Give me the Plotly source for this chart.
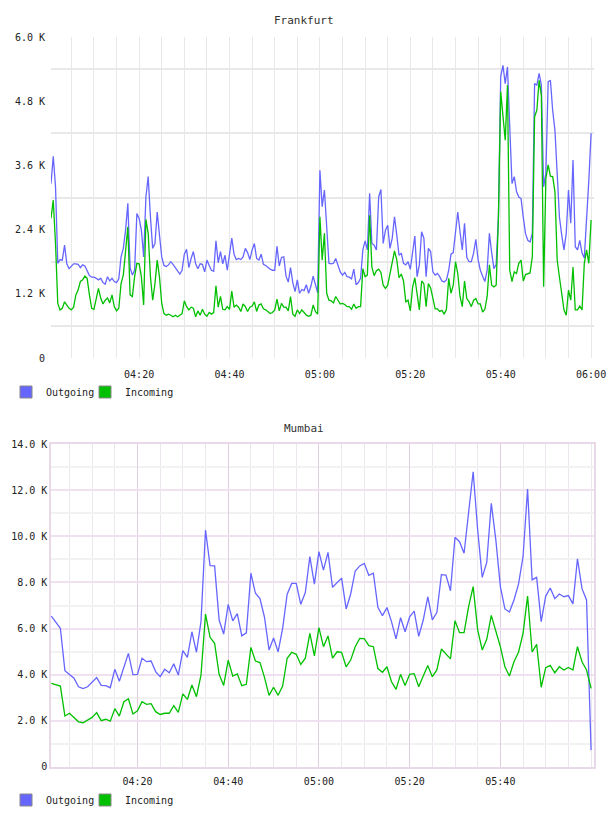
import plotly.graph_objects as go
import pandas as pd

# ---------------- data (values in thousands) ----------------
fra_out = [3.26, 3.77, 3.20, 1.77, 1.84, 1.83, 2.11, 1.76, 1.67, 1.71, 1.76, 1.76, 1.75, 1.69, 1.74, 1.72, 1.63, 1.54, 1.51, 1.51,
           1.49, 1.46, 1.49, 1.41, 1.38, 1.52, 1.44, 1.49, 1.43, 1.41, 1.48, 1.89, 2.05, 2.39, 2.89, 1.69, 1.55, 1.64, 2.70, 2.61,
           2.39, 1.89, 3.01, 3.39, 2.64, 2.05, 2.14, 2.73, 2.30, 1.89, 1.73, 1.71, 1.74, 1.80, 1.75, 1.69, 1.64, 1.57, 1.64, 1.94,
           2.03,
           1.69, 1.86, 1.99, 1.76, 1.67, 1.76, 1.75, 1.61, 1.83, 1.73, 1.64, 1.62, 2.19, 1.78, 1.99, 1.76, 1.92, 1.64, 1.94, 2.24,
           1.94, 1.84, 1.86, 1.84, 1.89, 2.05, 1.97, 1.84, 2.02, 2.14, 1.86, 1.83, 1.94, 1.75, 1.73, 1.69, 1.66, 1.64, 1.64, 2.09,
           1.72, 1.88, 1.89, 1.53, 1.42, 1.69, 1.41, 1.24, 1.46, 1.21, 1.28, 1.26, 1.37, 1.21, 1.34, 1.53, 1.38, 1.22, 3.51, 2.83,
           3.14,
           2.36, 1.77, 1.76, 1.77, 1.86, 1.74, 1.61, 1.55, 1.60, 1.52, 1.51, 1.48, 1.66, 1.37, 1.41, 1.49, 2.02, 2.19, 2.02, 3.08,
           2.14, 2.11, 2.02, 3.01, 3.15, 2.14, 2.39, 2.48, 2.05, 2.24, 2.64, 2.30, 1.92, 1.96, 1.77, 1.74, 1.80, 1.66, 2.02, 2.28,
           1.52, 1.74, 2.36, 2.24, 1.52, 2.05, 1.99, 1.61, 1.55, 1.58, 1.52, 1.44, 1.42, 1.46, 1.64, 1.94, 1.97, 2.30, 2.73, 2.36,
           2.02,
           2.52, 1.88, 1.80, 1.80, 1.96, 2.22, 1.84, 1.64, 1.53, 1.43, 1.64, 2.33, 1.97, 1.67, 1.75, 2.64, 5.26, 5.47, 5.13, 5.44,
           4.32, 3.26, 3.39, 3.11, 3.01, 2.98, 2.63, 2.32, 2.20, 2.17, 2.33, 5.13, 5.10, 5.32, 5.10, 3.20, 3.46, 5.16, 5.19, 4.63,
           4.26, 3.32, 2.63, 2.30, 2.02, 2.33, 3.14, 2.52, 3.70, 2.08, 2.02, 2.20, 1.96, 1.87, 2.52, 3.32, 4.20]

fra_in = [2.61, 2.95, 2.14, 1.02, 0.90, 0.93, 1.05, 0.99, 0.93, 0.90, 0.95, 1.18, 1.27, 1.43, 1.46, 1.53, 1.49, 1.18, 0.93, 0.91,
          1.08, 1.30, 1.12, 1.01, 1.08, 1.12, 1.03, 1.18, 0.96, 0.88, 0.93, 1.39, 1.55, 2.08, 2.45, 1.18, 1.15, 1.52, 1.77, 1.76,
          1.52, 0.99, 2.59, 2.33, 1.52, 1.08, 1.39, 1.83, 1.52, 1.02, 0.83, 0.80, 0.82, 0.80, 0.77, 0.80, 0.77, 0.80, 0.83, 1.07,
          0.96,
          0.90, 0.95, 0.93, 0.77, 0.88, 0.80, 0.91, 0.82, 0.78, 0.85, 0.82, 0.85, 1.35, 0.95, 1.15, 0.91, 0.90, 0.96, 0.91, 1.25,
          0.95, 0.99, 0.95, 0.87, 1.01, 0.96, 0.87, 0.95, 0.97, 1.05, 0.87, 0.99, 1.01, 0.92, 0.90, 0.87, 0.83, 0.85, 0.90, 1.10,
          0.88, 1.02, 0.95, 0.95, 0.88, 1.15, 0.82, 0.78, 0.90, 0.83, 0.90, 0.85, 0.80, 0.78, 0.80, 0.99, 0.87, 0.82, 2.64, 1.83,
          2.33,
          1.21, 1.08, 1.07, 1.03, 1.15, 1.08, 1.01, 1.02, 1.00, 0.96, 0.96, 0.91, 1.01, 0.93, 0.96, 0.96, 1.67, 1.52, 1.55, 2.67,
          1.70, 1.54, 1.63, 1.66, 1.60, 1.36, 1.30, 1.36, 1.57, 1.77, 2.00, 1.84, 1.50, 1.57, 1.44, 1.05, 1.08, 0.88, 1.32, 1.50,
          1.21, 0.90, 1.44, 1.39, 0.96, 1.39, 1.31, 1.08, 0.92, 0.92, 0.87, 0.89, 0.82, 0.91, 1.49, 1.21, 1.36, 1.80, 1.58, 1.15,
          0.96,
          1.44, 1.11, 1.05, 0.96, 1.08, 1.11, 1.01, 1.01, 0.86, 0.91, 1.15, 1.74, 1.36, 1.33, 1.36, 2.64, 4.98, 4.57, 4.07, 5.10,
          1.64, 1.43, 1.61, 1.58, 1.77, 1.83, 1.44, 1.56, 1.58, 1.59, 1.90, 4.51, 4.63, 5.19, 4.91, 1.33, 3.36, 3.61, 3.40, 3.39,
          3.11, 1.83, 1.51, 1.21, 0.90, 0.80, 1.27, 1.08, 1.70, 0.90, 0.90, 0.97, 0.90, 1.77, 2.02, 1.77, 2.58]

mum_out = [6.54, 6.30, 6.01, 4.17, 4.01, 3.84, 3.47, 3.39, 3.47, 3.65, 3.87, 3.53, 3.52, 3.43, 4.23, 3.71, 4.34, 4.92, 4.00, 4.01,
           4.71, 4.56, 4.59, 4.13, 3.91, 4.23, 4.08, 4.47, 3.98, 5.04, 4.75, 5.86, 4.97, 6.30, 10.28, 8.73, 8.72, 6.37, 5.76, 7.05,
           6.33, 6.65, 5.68, 5.81, 8.40, 7.53, 7.30, 6.49, 5.07, 5.59, 4.99, 6.01, 7.49, 7.96, 7.96, 7.05, 7.56, 9.12, 7.93, 9.34,
           8.54, 9.31, 7.79, 7.99, 8.19, 6.85, 7.50, 8.50, 8.72, 8.83, 8.31, 8.40, 6.92, 6.56, 6.91, 6.30, 5.55, 6.47, 5.86, 6.51,
           6.76, 5.66, 6.37, 7.38, 6.38, 6.69, 8.34, 8.32, 7.64, 9.96, 9.77, 9.27, 11.00, 12.81, 10.28, 8.22, 8.87, 11.44, 9.85, 7.82,
           6.85, 6.72, 7.24, 7.93, 9.12, 12.06, 8.11, 8.22, 6.30, 7.41, 7.76, 7.30, 7.50, 7.38, 7.43, 7.07, 9.03, 7.73, 7.24, 0.72]

mum_in = [3.62, 3.55, 3.50, 2.20, 2.32, 2.14, 1.95, 1.91, 2.03, 2.14, 2.35, 2.00, 2.06, 1.98, 2.52, 2.20, 2.82, 2.95, 2.29, 2.43,
          2.82, 2.71, 2.74, 2.39, 2.27, 2.32, 2.32, 2.65, 2.36, 3.16, 2.92, 3.55, 3.04, 3.98, 6.63, 5.62, 5.36, 4.01, 3.53, 4.63,
          3.94, 4.03, 3.52, 3.58, 5.18, 4.59, 4.52, 3.88, 3.10, 3.45, 3.10, 3.50, 4.71, 4.97, 4.88, 4.44, 4.71, 5.79, 4.81, 6.04,
          5.21, 5.68, 4.71, 4.99, 4.97, 4.34, 4.63, 5.21, 5.57, 5.56, 5.26, 5.21, 4.26, 4.10, 4.34, 3.69, 3.36, 4.01, 3.53, 4.01,
          4.04, 3.47, 3.94, 4.39, 3.91, 4.20, 5.11, 4.91, 4.68, 6.34, 5.82, 5.82, 6.95, 7.82, 5.94, 5.07, 5.53, 6.57, 5.86, 5.21,
          4.34, 3.94, 4.56, 4.97, 5.79, 7.41, 4.98, 5.31, 3.45, 4.30, 4.40, 4.08, 4.34, 4.20, 4.31, 4.20, 5.21, 4.56, 4.20, 3.40]

fra_times = pd.date_range("2024-01-01 04:00:30", periods=len(fra_out), freq="30s")
mum_times = pd.date_range("2024-01-01 04:01:00", periods=len(mum_out), freq="1min")

fra_ytick_vals = [0, 1.2, 2.4, 3.6, 4.8, 6.0]
fra_ytick_text = ["0", "1.2 K", "2.4 K", "3.6 K", "4.8 K", "6.0 K"]
fra_ygrid_vals = [0.6, 1.8, 3.0, 4.2, 5.4]
mum_ytick_vals = [0, 2, 4, 6, 8, 10, 12, 14]
mum_ytick_text = ["0", "2.0 K", "4.0 K", "6.0 K", "8.0 K", "10.0 K", "12.0 K", "14.0 K"]
mum_yminor_vals = [1, 3, 5, 7, 9, 11, 13]
fra_xtick_vals = ["2024-01-01 04:20", "2024-01-01 04:40", "2024-01-01 05:00",
                  "2024-01-01 05:20", "2024-01-01 05:40", "2024-01-01 06:00"]
fra_xtick_text = ["04:20", "04:40", "05:00", "05:20", "05:40", "06:00"]
mum_xtick_vals = fra_xtick_vals[:5]
mum_xtick_text = fra_xtick_text[:5]

series_names = ["Outgoing", "Incoming"]
series_colors = ["#6666ff", "#00c000"]

# ---------------- figure ----------------
W, H = 608, 816
FONT = "DejaVu Sans Mono"

fig = go.Figure()

for vals, name, col in zip([fra_out, fra_in], series_names, series_colors):
    fig.add_trace(go.Scatter(x=fra_times, y=vals, mode="lines", name=name,
                             line=dict(color=col, width=1.3), xaxis="x", yaxis="y",
                             showlegend=False, legendgroup="f" + name))
for vals, name, col in zip([mum_out, mum_in], series_names, series_colors):
    fig.add_trace(go.Scatter(x=mum_times, y=vals, mode="lines", name=name,
                             line=dict(color=col, width=1.3), xaxis="x2", yaxis="y2",
                             showlegend=False, legendgroup="m" + name))

# legend swatches (square, as in the reference); one legend box per entry
legend_ids = [["legend", "legend3"], ["legend2", "legend4"]]
for panel, (xa, ya, grp) in enumerate([("x", "y", "f"), ("x2", "y2", "m")]):
    for k, (name, col) in enumerate(zip(series_names, series_colors)):
        fig.add_trace(go.Bar(x=[None], y=[None], name=name,
                             marker=dict(color=col, line=dict(color="#888888", width=1)),
                             xaxis=xa, yaxis=ya, legend=legend_ids[panel][k],
                             legendgroup=grp + name, hoverinfo="skip"))

xdom = [51 / W, 593.5 / W]
fra_ydom = [1 - 358 / H, 1 - 37 / H]
mum_ydom = [1 - 766.7 / H, 1 - 444.3 / H]

tickfont = dict(family=FONT, size=10, color="#222222")
FR_GRID = "#e8e8e8"
legfont = dict(family=FONT, size=10, color="#222222")


def leg(xpx, ypx):
    return dict(orientation="h", x=xpx / W, xanchor="left", y=1 - ypx / H, yanchor="middle",
                font=legfont, bgcolor="rgba(0,0,0,0)", borderwidth=0,
                itemclick=False, itemdoubleclick=False)


fig.update_layout(
    template="none",
    width=W, height=H,
    margin=dict(l=0, r=0, t=0, b=0, pad=0, autoexpand=False),
    paper_bgcolor="white", plot_bgcolor="white",
    font=dict(family=FONT, size=10, color="#222222"),
    showlegend=True,
    xaxis=dict(domain=xdom, anchor="y", type="date", automargin=False,
               range=["2024-01-01 04:00:30", "2024-01-01 06:00:32"],
               tickmode="array", tickvals=fra_xtick_vals, ticktext=fra_xtick_text,
               showgrid=True, gridcolor=FR_GRID, gridwidth=1,
               minor=dict(tickmode="linear", tick0="2024-01-01 04:00", dtick=300000,
                          showgrid=True, gridcolor=FR_GRID, gridwidth=1),
               zeroline=False, showline=False, ticks="", tickfont=tickfont,
               ticklabelstandoff=9, fixedrange=True),
    yaxis=dict(domain=fra_ydom, anchor="x", range=[0, 6.0], automargin=False,
               tickmode="array", tickvals=fra_ytick_vals, ticktext=fra_ytick_text,
               showgrid=False,
               minor=dict(tickmode="array", tickvals=fra_ygrid_vals, showgrid=True,
                          gridcolor=FR_GRID, gridwidth=1.5),
               zeroline=False, showline=False, ticks="", tickfont=tickfont,
               ticklabelstandoff=5, fixedrange=True),
    xaxis2=dict(domain=xdom, anchor="y2", type="date", automargin=False,
                range=["2024-01-01 04:00:56", "2024-01-01 06:00:32"],
                tickmode="array", tickvals=mum_xtick_vals, ticktext=mum_xtick_text,
                showgrid=True, gridcolor="#e0cde0", gridwidth=1,
                minor=dict(tickmode="linear", tick0="2024-01-01 04:00", dtick=300000,
                           showgrid=True, gridcolor="#eee6ee", gridwidth=1),
                zeroline=False, showline=True, mirror=True, linecolor="#e8d8e8", linewidth=1.5,
                ticks="", tickfont=tickfont, ticklabelstandoff=5, fixedrange=True),
    yaxis2=dict(domain=mum_ydom, anchor="x2", range=[0, 14.0], automargin=False,
                tickmode="array", tickvals=mum_ytick_vals, ticktext=mum_ytick_text,
                showgrid=True, gridcolor="#efe1ef", gridwidth=1.5,
                minor=dict(tickmode="array", tickvals=mum_yminor_vals, showgrid=True,
                           gridcolor="#f2f2f2", gridwidth=1.5),
                zeroline=False, showline=True, mirror=True, linecolor="#e8d8e8", linewidth=1.5,
                ticks="", tickfont=tickfont, ticklabelstandoff=0, fixedrange=True),
    legend=leg(6, 392),
    legend3=leg(85, 392),
    legend2=leg(6, 800),
    legend4=leg(85, 800),
    annotations=[
        dict(text="Frankfurt", x=0.5, y=1 - 20.7 / H, xref="paper", yref="paper",
             xanchor="center", yanchor="middle", showarrow=False,
             font=dict(family=FONT, size=11, color="#333333")),
        dict(text="Mumbai", x=0.5, y=1 - 428 / H, xref="paper", yref="paper",
             xanchor="center", yanchor="middle", showarrow=False,
             font=dict(family=FONT, size=11, color="#333333")),
    ],
)

fig.write_html("out.html", config={"displayModeBar": False})
